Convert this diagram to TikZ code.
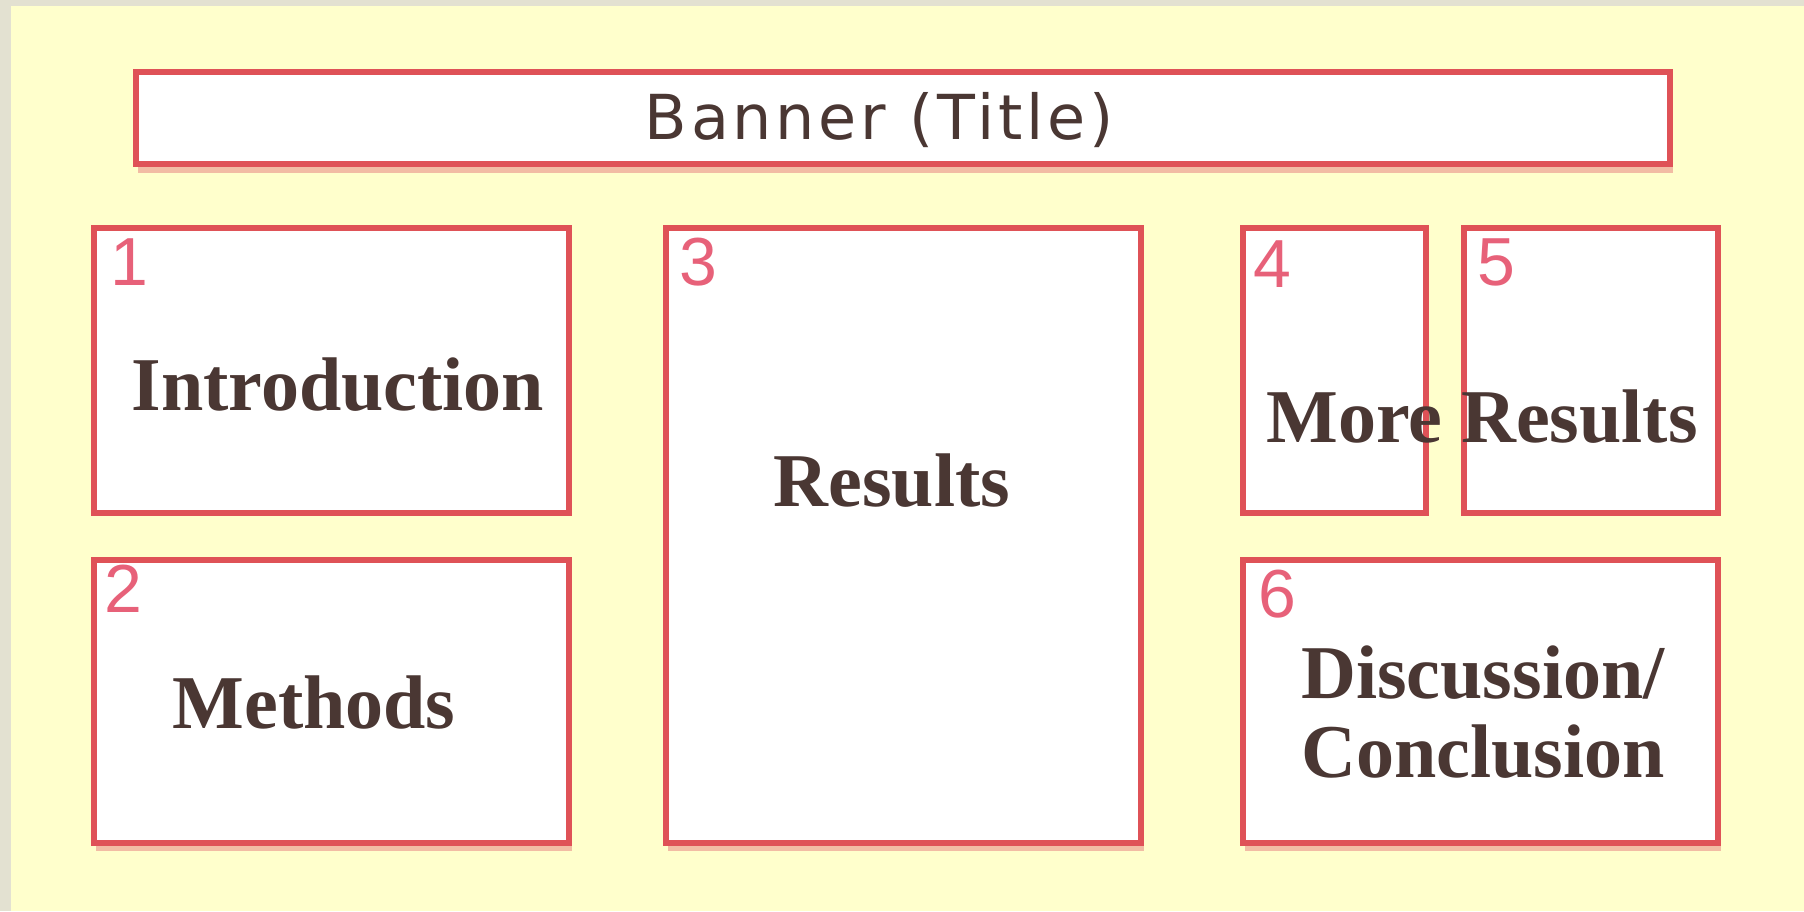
\documentclass[tikz,border=0pt]{standalone}
\usepackage{fontspec}
\setmainfont{Liberation Serif}
\newfontfamily\bannerfont[LetterSpace=6]{DejaVu Sans}
\newfontfamily\numfont{Liberation Sans}
\definecolor{bggrey}{HTML}{E3E1D1}
\definecolor{bgyellow}{HTML}{FFFFCC}
\definecolor{edgered}{HTML}{DF5257}
\definecolor{shadowsalmon}{HTML}{F2BCA4}
\definecolor{inkbrown}{HTML}{4A3733}
\definecolor{numred}{HTML}{E23A58}
\tikzset{
  panel/.style={draw=edgered, line width=6pt, fill=white, anchor=north west, inner sep=0pt, outer sep=0pt},
  shadowline/.style={draw=shadowsalmon, line width=6pt},
  heading/.style={font=\fontsize{76}{78}\selectfont\bfseries, text=inkbrown, inner sep=0pt, anchor=base},
  numlabel/.style={font=\numfont\fontsize{68}{70}\selectfont, text=numred, inner sep=0pt, anchor=base west, opacity=0.8},
}
\begin{document}
\begin{tikzpicture}[x=1pt, y=-1pt]
\useasboundingbox (0,0) rectangle (1804,911);
\fill[bggrey] (0,0) rectangle (1804,911);
\fill[bgyellow] (11,6) rectangle (1804,911);
% shadows
\coordinate (s1a) at (96,848); \coordinate (s1b) at (572,848);
\coordinate (s2a) at (668,848); \coordinate (s2b) at (1144,848);
\coordinate (s3a) at (1245,848); \coordinate (s3b) at (1721,848);
\coordinate (s4a) at (138,170); \coordinate (s4b) at (1673,170);
\draw[shadowline] (s1a) -- (s1b);
\draw[shadowline] (s2a) -- (s2b);
\draw[shadowline] (s3a) -- (s3b);
\draw[shadowline] (s4a) -- (s4b);
% panels
\node[panel, minimum width=1534pt, minimum height=92pt] (banner) at (136,72) {};
\node[panel, minimum width=475pt, minimum height=285pt] (b1) at (94,228) {};
\node[panel, minimum width=475pt, minimum height=283pt] (b2) at (94,560) {};
\node[panel, minimum width=475pt, minimum height=615pt] (b3) at (666,228) {};
\node[panel, minimum width=183pt, minimum height=285pt] (b4) at (1243,228) {};
\node[panel, minimum width=254pt, minimum height=285pt] (b5) at (1464,228) {};
\node[panel, minimum width=475pt, minimum height=283pt] (b6) at (1243,560) {};
% numbers
\node[numlabel] (n1) at (110,285) {1};
\node[numlabel] (n2) at (104,612) {2};
\node[numlabel] (n3) at (679,285) {3};
\node[numlabel] (n4) at (1253,287) {4};
\node[numlabel] (n5) at (1477,285) {5};
\node[numlabel] (n6) at (1258,617) {6};
% texts
\node[font=\bannerfont\fontsize{62}{64}\selectfont, text=inkbrown, inner sep=0pt, anchor=base] (bt) at (879,139) {Banner (Title)};
\node[heading] (t1) at (338,410) {Introduction};
\node[heading] (t2) at (314,728) {Methods};
\node[heading] (t3) at (892,506) {Results};
\node[heading] (t4) at (1482,442) {More Results};
\node[heading] (t6a) at (1483,698) {Discussion/};
\node[heading] (t6b) at (1483,777) {Conclusion};
\end{tikzpicture}
\end{document}
